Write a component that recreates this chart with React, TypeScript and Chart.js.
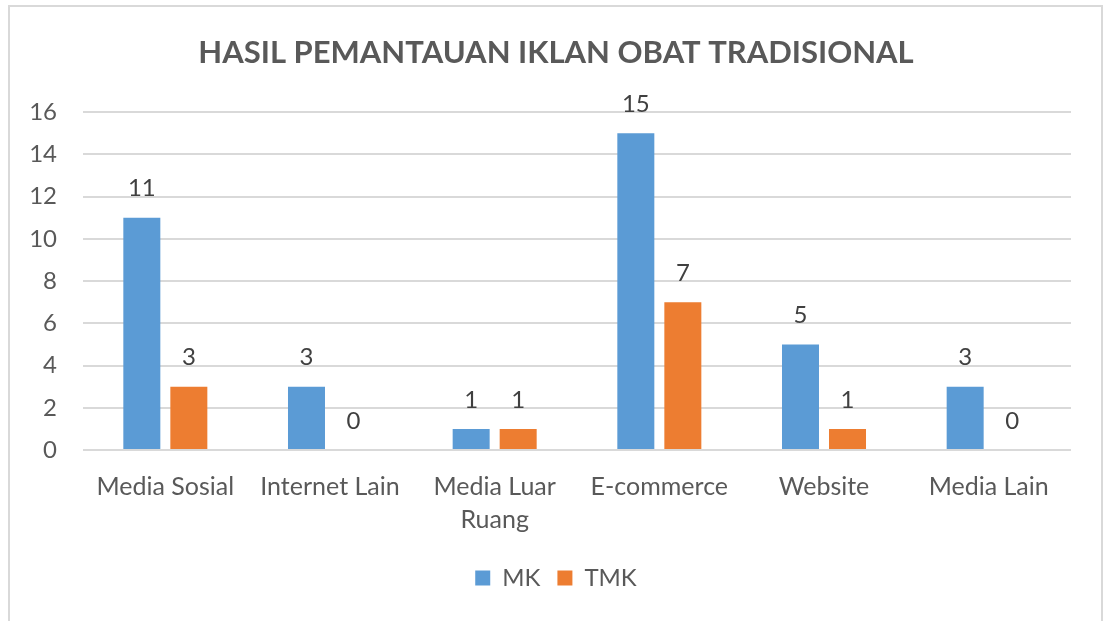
import React, { useEffect, useRef } from "react";
import { Chart, registerables } from "chart.js";

Chart.register(...registerables);

const categories: (string | string[])[] = [
  "Media Sosial",
  "Internet Lain",
  ["Media Luar", "Ruang"],
  "E-commerce",
  "Website",
  "Media Lain",
];
const mkValues = [11, 3, 1, 15, 5, 3];
const tmkValues = [3, 0, 1, 7, 1, 0];
const yTicks = [0, 2, 4, 6, 8, 10, 12, 14, 16];

const FONT = "Lato, 'Open Sans', sans-serif";
const TEXT = "#595959";

// Writes each bar's value just above its top edge.
const valueLabels = {
  id: "valueLabels",
  afterDatasetsDraw(chart: any) {
    const { ctx } = chart;
    ctx.save();
    ctx.font = `24px ${FONT}`;
    ctx.fillStyle = "#404040";
    ctx.textAlign = "center";
    ctx.textBaseline = "middle";
    chart.data.datasets.forEach((ds: any, i: number) => {
      const meta = chart.getDatasetMeta(i);
      meta.data.forEach((bar: any, j: number) => {
        ctx.fillText(String(ds.data[j]), bar.x, bar.y - 29);
      });
    });
    ctx.restore();
  },
};

export default function App() {
  const ref = useRef<HTMLCanvasElement>(null);

  useEffect(() => {
    if (!ref.current) return;
    const chart = new Chart(ref.current, {
      type: "bar",
      data: {
        labels: categories,
        datasets: [
          {
            label: "MK",
            data: mkValues,
            backgroundColor: "#5B9BD5",
            categoryPercentage: 0.571,
            barPercentage: 0.787,
          },
          {
            label: "TMK",
            data: tmkValues,
            backgroundColor: "#ED7D31",
            categoryPercentage: 0.571,
            barPercentage: 0.787,
          },
        ],
      },
      options: {
        animation: false,
        responsive: false,
        maintainAspectRatio: false,
        layout: { padding: { left: 8, right: 0, top: 34, bottom: 21 } },
        plugins: {
          title: {
            display: true,
            text: "HASIL PEMANTAUAN IKLAN OBAT TRADISIONAL",
            color: TEXT,
            font: { family: FONT, size: 31, weight: "bold" },
            padding: { top: 0, bottom: 41 },
          },
          legend: {
            position: "bottom",
            labels: {
              color: TEXT,
              font: { family: FONT, size: 24 },
              boxWidth: 15,
              boxHeight: 15,
              padding: 17,
            },
          },
          tooltip: { enabled: false },
        },
        scales: {
          x: {
            grid: { display: false },
            border: { display: false },
            ticks: {
              color: TEXT,
              font: { family: FONT, size: 25, lineHeight: 1.3 },
              padding: 13,
              maxRotation: 0,
            },
          },
          y: {
            min: 0,
            max: 16,
            afterBuildTicks: (axis: any) => {
              axis.ticks = yTicks.map((v) => ({ value: v }));
            },
            afterFit: (axis: any) => {
              axis.width = 79;
            },
            grid: { color: "#D9D9D9", lineWidth: 2, drawTicks: false },
            border: { display: false },
            ticks: {
              color: TEXT,
              font: { family: FONT, size: 24 },
              padding: 26,
            },
          },
          // Empty right-hand margin axis, balancing the plot under the title.
          yRight: {
            position: "right",
            display: true,
            grid: { display: false, drawTicks: false },
            border: { display: false },
            ticks: { display: false },
            afterFit: (axis: any) => {
              axis.width = 37;
            },
          },
        },
      },
      plugins: [valueLabels],
    });
    return () => chart.destroy();
  }, []);

  return (
    <div
      style={{
        position: "fixed",
        left: 0,
        top: 0,
        width: 1104,
        height: 621,
        background: "#fff",
        overflow: "hidden",
      }}
    >
      <div
        style={{
          position: "absolute",
          left: 8,
          top: 5,
          width: 1091,
          height: 660,
          border: "2px solid #D9D9D9",
        }}
      />
      <canvas
        ref={ref}
        width={1112}
        height={621}
        style={{ position: "absolute", left: -4, top: 0 }}
      />
    </div>
  );
}
